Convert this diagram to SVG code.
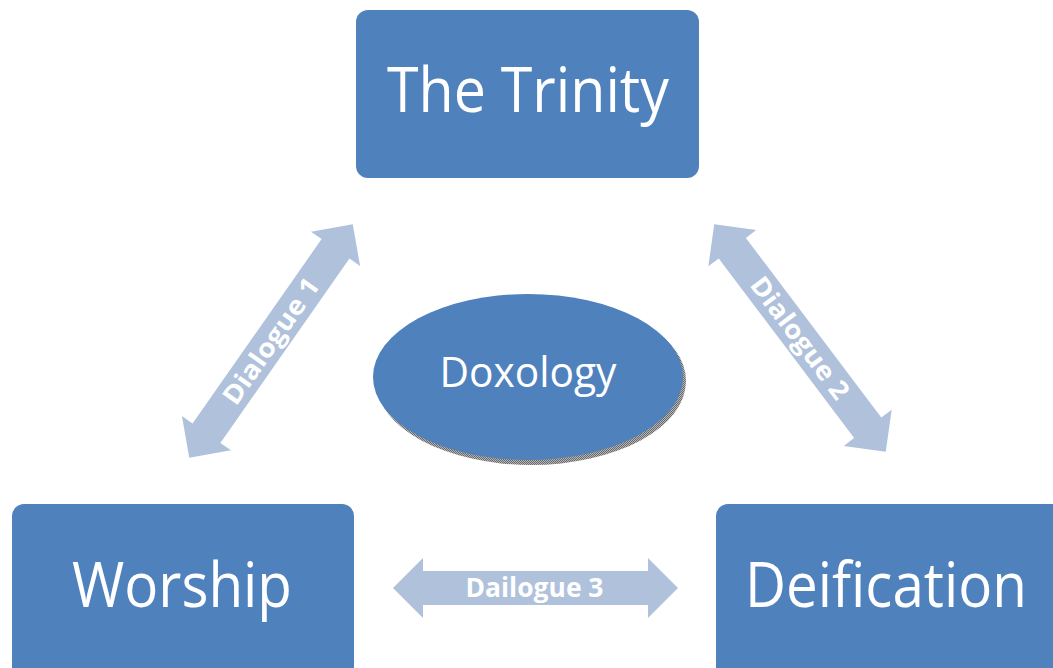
<svg xmlns="http://www.w3.org/2000/svg" width="1053" height="668" viewBox="0 0 1053 668">
<style>
.box{fill:#4F81BD}
.lbl{font-family:"Open Sans","Liberation Sans",sans-serif;fill:#fff;text-anchor:middle}
.arr{fill:#B0C1DC}
.al{font-family:"Open Sans","Liberation Sans",sans-serif;font-weight:bold;fill:#fff;text-anchor:middle;font-size:26px}
</style>
<defs>
<path id="darrow" d="M-142.5,0 L-112.5,-30 L-112.5,-17 L112.5,-17 L112.5,-30 L142.5,0 L112.5,30 L112.5,17 L-112.5,17 L-112.5,30 Z"/>
<pattern id="dots" width="2" height="2" patternUnits="userSpaceOnUse">
<rect width="2" height="2" fill="#b5b5b5"/>
<rect width="1" height="1" fill="#6a6a6a"/>
<rect x="1" y="1" width="1" height="1" fill="#6a6a6a"/>
</pattern>
</defs>
<g id="connectors">
<g id="dialogue1" transform="translate(271,341) rotate(-55)">
<use href="#darrow" class="arr"/>
<text class="al" x="0" y="9" textLength="148" lengthAdjust="spacingAndGlyphs">Dialogue 1</text>
</g>
<g id="dialogue2" transform="translate(800,338) rotate(53)">
<use href="#darrow" class="arr"/>
<text class="al" x="0" y="9" textLength="146" lengthAdjust="spacingAndGlyphs">Dialogue 2</text>
</g>
<g id="dialogue3" transform="translate(535.5,588)">
<use href="#darrow" class="arr"/>
<text class="al" x="-1" y="9" textLength="138" lengthAdjust="spacingAndGlyphs">Dailogue 3</text>
</g>
</g>
<g id="trinity">
<rect class="box" x="356" y="10" width="343" height="168" rx="12"/>
<text class="lbl" x="528" y="112" font-size="63" textLength="282" lengthAdjust="spacingAndGlyphs">The Trinity</text>
</g>
<g id="worship">
<rect class="box" x="12" y="504" width="342" height="176" rx="12"/>
<text class="lbl" x="182" y="607" font-size="63" textLength="220" lengthAdjust="spacingAndGlyphs">Worship</text>
</g>
<g id="deification">
<rect class="box" x="716" y="504" width="360" height="176" rx="12"/>
<text class="lbl" x="886" y="607" font-size="63" textLength="282" lengthAdjust="spacingAndGlyphs">Deification</text>
</g>
<g id="doxology">
<ellipse cx="531" cy="381" rx="155" ry="84" fill="url(#dots)"/>
<ellipse class="box" cx="528" cy="377" rx="155" ry="83"/>
<text class="lbl" x="528" y="387" font-size="42" textLength="177" lengthAdjust="spacingAndGlyphs">Doxology</text>
</g>
</svg>
